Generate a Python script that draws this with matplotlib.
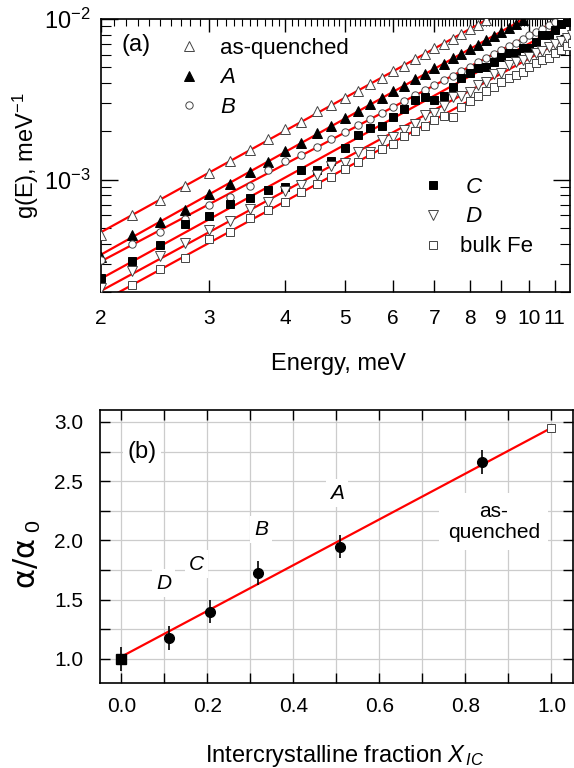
import numpy as np
import matplotlib
matplotlib.use('Agg')
import matplotlib.pyplot as plt
from matplotlib.ticker import (FixedLocator, MultipleLocator, FormatStrFormatter,
                               LogLocator, NullFormatter)

plt.rcParams['font.family'] = ['Liberation Sans', 'DejaVu Sans']
plt.rcParams['mathtext.fontset'] = 'custom'
plt.rcParams['mathtext.rm'] = 'Liberation Sans'
plt.rcParams['mathtext.it'] = 'Liberation Sans:italic'
plt.rcParams['mathtext.bf'] = 'Liberation Sans:bold'
plt.rcParams['mathtext.sf'] = 'DejaVu Sans'

# ---- panel (a): g(E), values in units of 1e-3 meV^-1
energy = [2.00, 2.25, 2.50, 2.75, 3.00, 3.25, 3.50, 3.75, 4.00, 4.25,
          4.50, 4.75, 5.00, 5.25, 5.50, 5.75, 6.00, 6.25, 6.50, 6.75,
          7.00, 7.25, 7.50, 7.75, 8.00, 8.25, 8.50, 8.75, 9.00, 9.25,
          9.50, 9.75, 10.00, 10.25, 10.50, 10.75, 11.00, 11.25, 11.50, 11.75]

g_asq = [0.455, 0.605, 0.748, 0.915, 1.10, 1.31, 1.52, 1.80, 2.08, 2.30,
         2.66, 2.90, 3.22, 3.55, 3.95, 4.30, 4.74, 5.12, 5.60, 6.02,
         6.55, 7.02, 7.55, 8.05, 8.62, 9.22, 9.80]
g_A = [0.332, 0.452, 0.543, 0.652, 0.816, 0.943, 1.115, 1.289, 1.513, 1.70,
       1.95, 2.15, 2.43, 2.66, 2.97, 3.22, 3.56, 3.84, 4.22, 4.52,
       4.93, 5.25, 5.70, 6.04, 6.50, 6.88, 7.40, 7.80, 8.33, 8.76,
       9.35, 9.80]
g_B = [0.318, 0.400, 0.472, 0.571, 0.698, 0.779, 0.912, 1.143, 1.30, 1.43,
       1.60, 1.79, 1.97, 2.18, 2.40, 2.61, 2.85, 3.08, 3.35, 3.60,
       3.87, 4.16, 4.44, 4.75, 5.06, 5.38, 5.72, 6.05, 6.40, 6.77,
       7.13, 7.52, 7.90, 8.30, 8.72, 9.13, 9.57, 10.0]
g_C = [0.243, 0.310, 0.394, 0.528, 0.592, 0.702, 0.772, 0.861, 0.900, 1.155,
       1.155, 1.306, 1.585, 1.910, 2.084, 2.153, 2.460, 2.761, 3.133, 3.281,
       3.133, 3.319, 3.758, 4.315, 4.634, 4.943, 5.058, 5.40, 5.79, 6.18,
       6.18, 6.64, 6.64, 7.24, 7.98, 7.94, 8.49, 9.33, 9.55, 9.90]
g_D = [0.212, 0.270, 0.334, 0.406, 0.485, 0.552, 0.660, 0.730, 0.849, 0.920,
       1.074, 1.216, 1.276, 1.476, 1.487, 1.762, 1.830, 2.032, 2.208, 2.523,
       2.585, 2.871, 3.281, 3.331, 3.528, 3.890, 4.074, 4.550, 4.597, 5.176,
       5.420, 5.55, 5.80, 6.10, 6.35, 6.70, 6.95, 7.30, 7.65, 7.95]
g_bulk = [0.172, 0.221, 0.278, 0.326, 0.428, 0.475, 0.575, 0.643, 0.724, 0.837,
          0.935, 1.04, 1.172, 1.29, 1.45, 1.56, 1.663, 1.86, 2.02, 2.16,
          2.35, 2.50, 2.45, 2.85, 3.10, 3.30, 3.55, 3.78, 4.05, 4.30,
          4.45, 4.70, 5.00, 5.35, 5.55, 5.75, 6.10, 6.40, 6.75, 7.05]

# ---- panel (b)
x_ic = [0.0, 0.11, 0.207, 0.318, 0.509, 0.839]
ratio = [1.0, 1.177, 1.40, 1.724, 1.948, 2.66]
ratio_err = [0.1, 0.1, 0.1, 0.1, 0.1, 0.1]
x_extrap = [1.0]
ratio_extrap = [2.95]
fit_x = [0.0, 1.0]
fit_y = [1.02, 2.95]

fig = plt.figure(figsize=(5.74, 7.68), dpi=100)
ax1 = fig.add_axes([0.1754, 0.6198, 0.8176, 0.3555])
ax2 = fig.add_axes([0.1742, 0.1111, 0.8240, 0.3550])

# series styles: label, data, marker, filled
series = [
    ('as-quenched', g_asq, '^', False),
    ('A', g_A, '^', True),
    ('B', g_B, 'o', False),
    ('C', g_C, 's', True),
    ('D', g_D, 'v', False),
    ('bulk Fe', g_bulk, 's', False),
]

E = np.array(energy)
E_line = np.geomspace(2, 12, 50)
handles = []
for label, g, mk, filled in series:
    e = E[:len(g)]
    g = np.array(g) * 1e-3
    # power-law fit (straight line in log-log)
    k, b = np.polyfit(np.log10(e), np.log10(g), 1)
    ax1.plot(E_line, 10 ** (k * np.log10(E_line) + b), color='red', lw=1.6, zorder=2)
    ms = 7.2 if mk in ('^', 'v') else 5.3
    h, = ax1.plot(e, g, ls='none', marker=mk, ms=ms,
                  mfc='black' if filled else 'white',
                  mec='black' if filled else '#444444',
                  mew=0.7, zorder=3, label=label)
    handles.append(h)

ax1.set_xscale('log')
ax1.set_yscale('log')
ax1.set_xlim(2, 11.65)
ax1.set_ylim(2e-4, 1e-2)
ax1.xaxis.set_major_locator(FixedLocator(range(2, 12)))
ax1.xaxis.set_major_formatter(FormatStrFormatter('%d'))
ax1.xaxis.set_minor_locator(FixedLocator(np.arange(2.1, 11.65, 0.1)))
ax1.xaxis.set_minor_formatter(NullFormatter())
ax1.yaxis.set_major_locator(LogLocator(base=10))
ax1.yaxis.set_minor_locator(LogLocator(base=10, subs=np.arange(2, 10)))
ax1.yaxis.set_minor_formatter(NullFormatter())
ax1.tick_params(axis='x', which='major', direction='in', top=True, bottom=True,
                length=9, width=1, labelsize=15, pad=12)
ax1.tick_params(axis='x', which='minor', direction='in', top=True, bottom=False,
                length=5, width=0.8)
ax1.tick_params(axis='y', which='major', direction='in', left=True, right=True,
                length=12, width=1, labelsize=17, pad=7)
ax1.tick_params(axis='y', which='minor', direction='in', left=True, right=True,
                length=7, width=0.8)
for sp in ax1.spines.values():
    sp.set_linewidth(1.2)

ax1.set_xlabel('Energy, meV', fontsize=17)
ax1.xaxis.set_label_coords(0.507, -0.222)
ax1.set_ylabel('g(E), meV$^{-1}$', fontsize=17)
ax1.yaxis.set_label_coords(-0.128, 0.5)
ax1.text(0.075, 0.905, '(a)', transform=ax1.transAxes, fontsize=17,
         ha='center', va='center')

leg1 = ax1.legend(handles=handles[:3], loc='upper left', bbox_to_anchor=(0.165, 0.93),
                  frameon=False, fontsize=16, handlelength=1.0, handletextpad=0.9,
                  labelspacing=0.37, borderpad=0, borderaxespad=0)
for t in leg1.get_texts()[1:]:
    t.set_style('italic')
ax1.add_artist(leg1)
leg2 = ax1.legend(handles=handles[3:], labels=[' C', ' D', 'bulk Fe'],
                  loc='upper left', bbox_to_anchor=(0.685, 0.423),
                  frameon=False, fontsize=16, handlelength=1.0, handletextpad=0.7,
                  labelspacing=0.4, borderpad=0, borderaxespad=0)
for t in leg2.get_texts()[:2]:
    t.set_style('italic')

# ---- panel (b)
ax2.plot(fit_x, fit_y, color='red', lw=1.6, zorder=3)
ax2.errorbar(x_ic[1:], ratio[1:], yerr=ratio_err[1:], fmt='o', color='black',
             ms=7, elinewidth=1.2, capsize=0, zorder=4)
ax2.errorbar(x_ic[:1], ratio[:1], yerr=ratio_err[:1], fmt='s', color='black',
             ms=6.5, elinewidth=1.2, capsize=0, zorder=4)
ax2.plot(x_extrap, ratio_extrap, ls='none', marker='s', ms=6, mfc='white',
         mec='#444444', mew=0.7, zorder=4)

ax2.set_xlim(-0.05, 1.05)
ax2.set_ylim(0.8, 3.1)
ax2.xaxis.set_major_locator(MultipleLocator(0.2))
ax2.xaxis.set_minor_locator(MultipleLocator(0.1))
ax2.yaxis.set_major_locator(MultipleLocator(0.5))
ax2.yaxis.set_minor_locator(MultipleLocator(0.25))
ax2.xaxis.set_major_formatter(FormatStrFormatter('%.1f'))
ax2.yaxis.set_major_formatter(FormatStrFormatter('%.1f'))
ax2.grid(which='both', color='#cccccc', lw=0.9, zorder=0)
ax2.set_axisbelow(True)
ax2.tick_params(which='both', direction='in', top=True, right=True,
                length=7, width=1, labelsize=15)
ax2.tick_params(axis='x', which='major', pad=10)
ax2.tick_params(axis='y', which='major', pad=12)
for sp in ax2.spines.values():
    sp.set_linewidth(1.2)

ax2.set_xlabel('Intercrystalline fraction $X_{\\,IC}$', fontsize=17)
ax2.xaxis.set_label_coords(0.518, -0.222)
ax2.set_ylabel('$\\mathsf{α/α}_{\\ 0}$', fontsize=22)
ax2.yaxis.set_label_coords(-0.12, 0.47)

box = dict(facecolor='white', edgecolor='none', pad=3)
ax2.text(0.048, 2.75, '(b)', fontsize=17, ha='center', va='center', bbox=box)
ax2.text(0.098, 1.64, 'D', fontsize=15, style='italic', ha='center', va='center', bbox=box)
ax2.text(0.174, 1.80, 'C', fontsize=15, style='italic', ha='center', va='center', bbox=box)
ax2.text(0.325, 2.09, 'B', fontsize=15, style='italic', ha='center', va='center', bbox=box)
ax2.text(0.501, 2.40, 'A', fontsize=15, style='italic', ha='center', va='center', bbox=box)
ax2.text(0.866, 2.158, 'as-\nquenched', fontsize=15, ha='center', va='center',
         linespacing=1.15, bbox=dict(facecolor='white', edgecolor='none', pad=6))

fig.savefig('out.png', dpi=100)
